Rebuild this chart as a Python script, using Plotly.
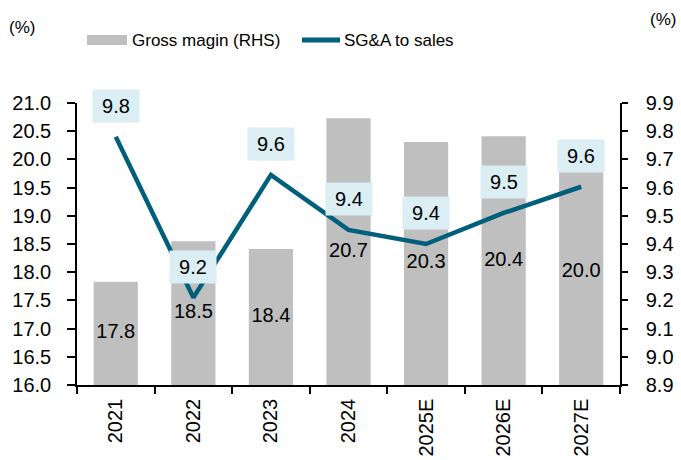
import plotly.graph_objects as go

categories = ["2021", "2022", "2023", "2024", "2025E", "2026E", "2027E"]
gross_margin = [17.83, 18.55, 18.41, 20.73, 20.31, 20.41, 20.0]
gross_margin_labels = ["17.8", "18.5", "18.4", "20.7", "20.3", "20.4", "20.0"]
sga_to_sales = [9.78, 9.21, 9.645, 9.45, 9.40, 9.51, 9.603]
sga_labels = ["9.8", "9.2", "9.6", "9.4", "9.4", "9.5", "9.6"]
left_range = [16, 21]
right_range = [8.9, 9.9]

FONT = "Liberation Sans, Arial, sans-serif"
FS = 20
FS_LEG = 17
BAR_C = "#BFBFBF"
LINE_C = "#005F7A"
BOX_C = "#DAEEF3"

W, H = 681, 460
L, R, T, B = 77, 620, 103, 385

xpos = list(range(len(categories)))
boundaries = [i - 0.5 for i in range(len(categories) + 1)]
bar_mid = [(left_range[0] + v) / 2 for v in gross_margin]


def px(x):
    return (x - L) / (R - L)


def py(y):
    return (B - y) / (B - T)


num_font = dict(family=FONT, size=FS, color="black")
leg_font = dict(family=FONT, size=FS_LEG, color="black")

fig = go.Figure()
fig.add_trace(go.Bar(
    x=xpos, y=gross_margin, name="Gross magin (RHS)",
    marker=dict(color=BAR_C, line=dict(width=0)), width=0.57,
    showlegend=False, yaxis="y", hoverinfo="skip",
))
fig.add_trace(go.Scatter(
    x=xpos, y=bar_mid, mode="text", text=gross_margin_labels,
    textposition="middle center", textfont=num_font, yaxis="y",
    showlegend=False, hoverinfo="skip",
))
fig.add_trace(go.Scatter(
    x=xpos, y=sga_to_sales, name="SG&A to sales", mode="lines",
    line=dict(color=LINE_C, width=4.5), yaxis="y2", showlegend=False,
))

annotations = []
for i, v, t in zip(xpos, sga_to_sales, sga_labels):
    annotations.append(dict(
        x=i, y=v, xref="x", yref="y2", text=t, showarrow=False, yshift=31,
        bgcolor=BOX_C, borderpad=6, width=34, height=20, font=num_font,
    ))

annotations.append(dict(x=px(130), y=py(40), xref="paper", yref="paper", text="Gross magin (RHS)",
                        showarrow=False, xanchor="left", yanchor="middle", font=leg_font))
annotations.append(dict(x=px(342), y=py(40), xref="paper", yref="paper", text="SG&amp;A to sales",
                        showarrow=False, xanchor="left", yanchor="middle", font=leg_font))
annotations.append(dict(x=px(7), y=py(27), xref="paper", yref="paper", text="(%)",
                        showarrow=False, xanchor="left", yanchor="middle", font=leg_font))
annotations.append(dict(x=px(678), y=py(20), xref="paper", yref="paper", text="(%)",
                        showarrow=False, xanchor="right", yanchor="middle", font=leg_font))

shapes = [
    dict(type="rect", xref="paper", yref="paper", x0=px(87), x1=px(127), y0=py(45), y1=py(35),
         fillcolor=BAR_C, line=dict(width=0)),
    dict(type="line", xref="paper", yref="paper", x0=px(302), x1=px(340), y0=py(40), y1=py(40),
         line=dict(color=LINE_C, width=5)),
]

fig.update_layout(
    width=W, height=H,
    margin=dict(l=L, r=W - R, t=T, b=H - B, autoexpand=False),
    paper_bgcolor="white", plot_bgcolor="white",
    font=dict(family=FONT, size=FS, color="black"),
    xaxis=dict(range=[-0.5, len(categories) - 0.5], tickvals=xpos, ticktext=categories,
               showline=True, linecolor="black", linewidth=1.5, automargin=False,
               ticks="", tickangle=-90, tickfont=num_font, showgrid=False, zeroline=False,
               ticklabelstandoff=4,
               minor=dict(tickvals=boundaries, ticks="outside", ticklen=7, tickcolor="black",
                          tickwidth=1.5, showgrid=False)),
    yaxis=dict(range=left_range, dtick=0.5, tickformat=".1f", showline=True, linecolor="black",
               linewidth=1.5, ticks="outside", ticklen=8, tickcolor="black", tickwidth=1.5,
               automargin=False,
               tickfont=num_font, showgrid=False, zeroline=False, ticklabelstandoff=12),
    yaxis2=dict(range=right_range, dtick=0.1, tickformat=".1f", overlaying="y", side="right",
                showline=True, linecolor="black", linewidth=1.5, ticks="outside", ticklen=6,
                tickcolor="black", tickwidth=1.5, tickfont=num_font, showgrid=False,
                automargin=False,
                zeroline=False, ticklabelstandoff=14),
    annotations=annotations, shapes=shapes, showlegend=False,
)

fig.write_html("out.html", config={"displayModeBar": False},
               post_script="document.body.style.margin='0';")
